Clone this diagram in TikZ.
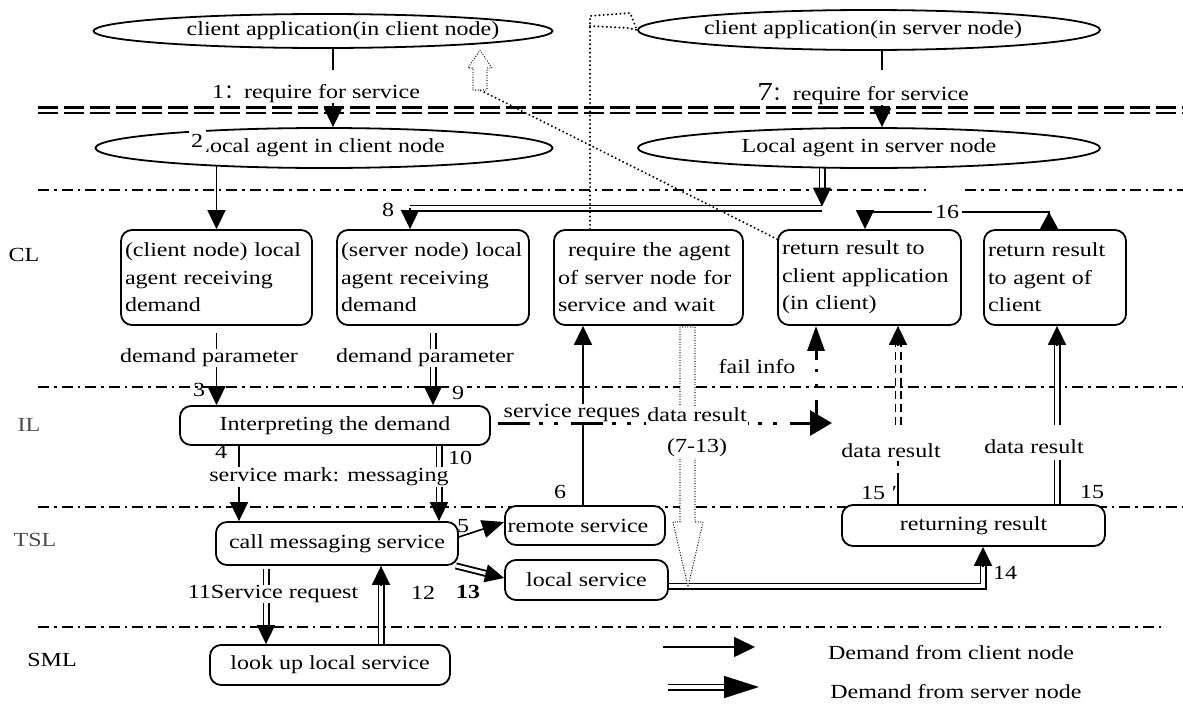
\documentclass[tikz,border=0pt]{standalone}
\usepackage{fontspec}
\setmainfont{Liberation Serif}[FakeStretch=1.2]
\newfontfamily\cjk{Noto Sans CJK SC}
\usetikzlibrary{arrows.meta,calc,shapes.geometric}
\pgfdeclarelayer{bg}
\pgfdeclarelayer{fg}
\pgfsetlayers{bg,main,fg}
\setlength{\parindent}{0pt}
\newcommand{\jline}[1]{\makebox[\hsize][s]{#1}}
\newcommand{\shtxt}[2]{\makebox[0pt]{\hspace*{#1}#2}}
\newcommand{\dblarrow}[2]{\draw[dbl, shorten >=17pt] (#1) -- (#2); \draw[conn,-tipA] ($(#2)!19pt!(#1)$) -- (#2);}
\begin{document}
\begin{tikzpicture}[x=1pt,y=-1pt,
  font=\fontsize{20}{27.5}\selectfont,
  ell/.style={ellipse, draw, line width=1.8pt, fill=white, inner sep=0pt},
  rbox/.style={draw, line width=1.8pt, rounded corners=11pt, fill=white, inner sep=0pt},
  tbox/.style={rbox, inner xsep=4pt, text width=#1, align=left, minimum height=95pt},
  lbl/.style={inner sep=0pt},
  conn/.style={line width=1.6pt},
  tipA/.tip={Triangle[length=19pt,width=18pt]},
  tipR/.tip={Triangle[reversed,length=17pt,width=18pt]},
  arr/.style={conn,-tipA},
  dbl/.style={double, double distance=3.2pt, line width=1.9pt},
  dbldash/.style={dbl, dash pattern=on 8pt off 5pt},
  sepline/.style={line width=1.5pt, dash pattern=on 11pt off 5pt on 2.5pt off 5pt},
  ddash/.style={line width=2.7pt, dash pattern=on 20pt off 6pt},
  failh/.style={line width=3pt, dash pattern=on 32pt off 9pt on 4pt off 11pt on 4pt off 13pt},
  failv/.style={line width=3pt, dash pattern=on 23pt off 13pt on 3pt off 12pt on 3pt off 9pt},
  dotln/.style={line width=2.2pt, line cap=round, dash pattern=on 0pt off 4.2pt},
  hollow/.style={line width=1.3pt, line cap=round, dash pattern=on 0pt off 2.6pt, fill=white},
  gr/.style={text=black!70},
]
\useasboundingbox (0,0) rectangle (1183,704);

% ---------- nodes ----------
\node[ell, minimum width=459pt, minimum height=34pt] (E1) at (323,31) {\shtxt{40pt}{client application(in client node)}};
\node[ell, minimum width=462pt, minimum height=40pt] (E2) at (869,30) {\shtxt{-12pt}{client application(in server node)}};
\node[ell, minimum width=457pt, minimum height=40pt] (E3) at (324,148) {\shtxt{-8pt}{Local agent in client node}};
\node[ell, minimum width=462pt, minimum height=40pt] (E4) at (869,148) {Local agent in server node};
\node[lbl, fill=white, inner xsep=2.5pt, inner ysep=4pt] (n2) at (197,141) {2};

\node[lbl] (L1) at (316,94) {1{\cjk ：}require for service};
\node[lbl] (L7) at (863,94) {{\fontsize{26}{26}\selectfont 7}{\cjk ：}require for service};

\node[lbl] (CL) at (24,255) {CL};
\node[lbl, gr] (IL) at (29,425) {IL};
\node[lbl, gr] (TSL) at (35,540) {TSL};
\node[lbl] (SML) at (52,660) {SML};

\node[tbox=183pt] (B1) at (216.5,277.5) {\jline{(client node) local}\\\jline{agent receiving}\\demand};
\node[tbox=184pt] (B2) at (433,277.5) {\jline{(server node) local}\\\jline{agent receiving}\\demand};
\node[tbox=181pt] (B3) at (648.5,277.5) {\jline{\hspace*{10pt}require the agent}\\\jline{of server node for}\\service and wait};
\node[tbox=175pt] (B4) at (869.5,277.5) {\jline{return result to}\\\jline{client application}\\(in client)};
\node[tbox=134pt] (B5) at (1055,277.5) {\jline{return result}\\\jline{to agent of}\\client};

\node[lbl] (n8) at (388,210) {8};
\node[lbl, fill=white, inner xsep=3pt] (n16) at (947,212) {16};
\node[lbl] (DP1) at (209,358) {demand parameter};
\node[lbl] (DP2) at (425,358) {demand parameter};
\node[lbl] (n3) at (199,390) {3};
\node[lbl, fill=white, inner xsep=3pt] (n9) at (458,393) {9};
\node[rbox, minimum width=310pt, minimum height=39pt] (INT) at (335,425.5) {Interpreting the demand};
\node[lbl] (n4) at (221,452) {4};
\node[lbl, fill=white, inner sep=1pt] (SM) at (329,477) {service mark: messaging};
\node[lbl] (n10) at (460,458) {10};
\node[lbl] (FI) at (757,367) {fail info};
\node[lbl, fill=white] (SRQ) at (572,413) {service reques};

\node[rbox, minimum width=242pt, minimum height=43pt] (CM) at (337,543.5) {call messaging service};
\node[lbl] (n5) at (463,526) {5};
\node[lbl] (n6) at (560,492) {6};
\node[rbox, minimum width=160pt, minimum height=39pt] (RS) at (585,525.5) {\shtxt{-14pt}{remote service}};
\node[rbox, minimum width=163pt, minimum height=40pt] (LS) at (586.5,580) {local service};
\node[lbl, font=\fontsize{20}{24}\selectfont\bfseries] (n13) at (468,592) {13};
\node[rbox, minimum width=263pt, minimum height=41pt] (RR) at (973.5,525.5) {returning result};
\node[lbl] (n14) at (1005,573) {14};
\node[lbl, anchor=west] (n15a) at (861,493) {15\,\,′};
\node[lbl] (n15b) at (1092,492) {15};
\node[lbl] (DR1) at (891,451) {data result};
\node[lbl] (DR2) at (1034,447) {data result};
\node[lbl] (SR) at (273,594) {11Service request};
\node[lbl] (n12) at (423,593) {12};
\node[rbox, minimum width=240pt, minimum height=40pt] (LU) at (330,665) {look up local service};
\node[lbl] (LG1) at (951,653) {Demand from client node};
\node[lbl] (LG2) at (956,692) {Demand from server node};

% ---------- background: separators and connectors ----------
\begin{pgfonlayer}{bg}
\draw[ddash] (38,107.5) -- (1183,107.5);
\draw[ddash] (38,113) -- (1183,113);
\draw[sepline] (38,190) -- (930,190);
\draw[sepline] (965,190) -- (1183,190);
\draw[sepline] (38,387) -- (1183,387);
\draw[sepline] (38,507) -- (1183,507);
\draw[sepline] (38,627) -- (1166,627);

% top arrows
\coordinate (c1) at (333,70);
\coordinate (c7) at (882,70);
\draw[conn] (E1.south -| c1) -- (c1);
\draw[arr] (L1.south -| c1) -- (E3.north -| c1);
\draw[conn] (E2.south -| c7) -- (c7);
\draw[arr] (L7.south -| c7) -- (E4.north -| c7);

% E3 -> B1
\draw[arr] (B1.north |- E3.center) -- (B1.north);

% E4 -> double line -> B2 (8)
\coordinate (c8r) at (822,206.5);
\coordinate (e4c) at (c8r |- E4.center);
\dblarrow{e4c}{c8r}
\coordinate (c8l) at (410,208);
\coordinate (c8e) at (822,208);
\draw[dbl] (c8l) -- (c8e);
\draw[arr] (c8l) -- (c8l |- B2.north);

% 16
\coordinate (c16r) at (1049,212);
\coordinate (c16l) at (865,212);
\draw[conn, tipR-tipA] (c16r |- B5.north) -- (c16r) -- (c16l) -- (c16l |- B4.north);

% CL -> IL
\draw[conn, shorten <=7pt] (B1.south) -- (B1.south |- DP1.north);
\draw[arr] (B1.south |- DP1.south) -- (B1.south |- INT.north);
\draw[dbl, shorten <=7pt] (B2.south) -- (B2.south |- DP2.north);
\coordinate (q2a) at (B2.south |- DP2.south);
\coordinate (q2b) at (B2.south |- INT.north);
\dblarrow{q2a}{q2b}

% IL -> TSL
\coordinate (x4) at (239,500);
\draw[conn] (x4 |- INT.south) -- (x4 |- SM.north);
\draw[arr] (x4 |- SM.south) -- (x4 |- CM.north);
\coordinate (x10) at (439,500);
\draw[dbl] (x10 |- INT.south) -- (x10 |- SM.north);
\coordinate (q10a) at (x10 |- SM.south);
\coordinate (q10b) at (x10 |- CM.north);
\dblarrow{q10a}{q10b}

% 5 and 6
\coordinate (s5) at ($(CM.east)+(-3,-5.5)$);
\coordinate (e5) at ($(RS.west)+(0,-3.5)$);
\draw[conn, -{Triangle[length=22pt,width=18pt]}] (s5) -- (e5);
\coordinate (x6) at (583,500);
\draw[arr] (x6 |- RS.north) -- (x6 |- B3.south);

% 13
\coordinate (s13) at ($(CM.south east)+(-3,0)$);
\coordinate (e13) at ($(LS.west)+(0,-2)$);
\dblarrow{s13}{e13}

% 14
\coordinate (l14a) at ($(LS.east)+(0,6)$);
\coordinate (c14) at (983,586);
\coordinate (r14) at (c14 |- RR.south);
\draw[dbl, shorten >=17pt] (l14a) -- (c14) -- (r14);
\draw[arr] ($(r14)!19pt!(c14)$) -- (r14);

% data results 15
\coordinate (x15) at (898,500);
\coordinate (u1a) at (x15 |- DR1.north);
\coordinate (u1b) at (x15 |- B4.south);
\draw[dbldash, shorten <=19pt, shorten >=17pt] (u1a) -- (u1b);
\draw[arr] ($(u1b)!19pt!(u1a)$) -- (u1b);
\draw[line width=2.6pt, dash pattern=on 5pt off 7pt on 40pt, shorten <=3pt] (x15 |- DR1.south) -- (x15 |- RR.north);
\coordinate (x15r) at (1057,500);
\coordinate (u2a) at (x15r |- DR2.north);
\coordinate (u2b) at (x15r |- B5.south);
\draw[dbl, shorten <=15pt, shorten >=17pt] (u2a) -- (u2b);
\draw[arr] ($(u2b)!19pt!(u2a)$) -- (u2b);
\draw[dbl, shorten <=6pt] (x15r |- DR2.south) -- (x15r |- RR.north);

% 11 and 12
\coordinate (x11) at (266,600);
\draw[dbl, shorten <=3pt] (x11 |- CM.south) -- (x11 |- SR.north);
\coordinate (q11a) at (x11 |- SR.south);
\coordinate (q11b) at (x11 |- LU.north);
\dblarrow{q11a}{q11b}
\coordinate (x12) at (381,600);
\coordinate (q12a) at (x12 |- LU.north);
\coordinate (q12b) at (x12 |- CM.south);
\dblarrow{q12a}{q12b}

% hollow dotted arrow (7-13)
\draw[hollow] (680,327) -- (695,327) -- (695,522) -- (703,522) -- (688,587) -- (673,522) -- (680,522) -- cycle;

% dotted paths
\coordinate (h0) at (480,90);
\coordinate (b4d) at ($(B4.north west)+(0,10)$);
\draw[dotln] (b4d) -- (h0);
\draw[hollow] (473,90) -- (487,90) -- (487,68) -- (492,68) -- (480,50) -- (468,68) -- (473,68) -- cycle;
\coordinate (d1) at (590,16);
\coordinate (d2) at (630,13);
\coordinate (d3) at (590,26);
\coordinate (d4) at (628,28);
\coordinate (b3d) at (d1 |- B3.north);
\draw[dotln] (b3d) -- (d1) -- (d2) -- (E2.west);
\draw[dotln] (d3) -- (d4) -- (E2.west);

% legend
\coordinate (lg1a) at (663,647);
\coordinate (lg1b) at (755,647);
\draw[conn, -{Triangle[length=21pt,width=20pt]}] (lg1a) -- (lg1b);
\coordinate (lg2a) at (668,687);
\coordinate (lg2b) at (759,687);
\draw[dbl, shorten >=33pt] (lg2a) -- (lg2b);
\draw[conn, -{Triangle[length=35pt,width=22pt]}] ($(lg2b)!35pt!(lg2a)$) -- (lg2b);
\end{pgfonlayer}

% ---------- foreground: fail info path ----------
\begin{pgfonlayer}{fg}
\coordinate (f1) at ($(INT.east)+(7,-2.5)$);
\coordinate (f2) at (832,423);
\coordinate (f3) at (816,423);
\draw[failh, -{Triangle[length=22pt,width=25pt]}] (f1) -- (f2);
\draw[failv, -{Triangle[length=25pt,width=17pt]}] (f3) -- (f3 |- B4.south);
\node[lbl, fill=white, inner sep=1pt, align=center, font=\fontsize{20}{31}\selectfont] (DR0) at (697,432) {data result\\(7-13)};
\end{pgfonlayer}
\end{tikzpicture}
\end{document}
